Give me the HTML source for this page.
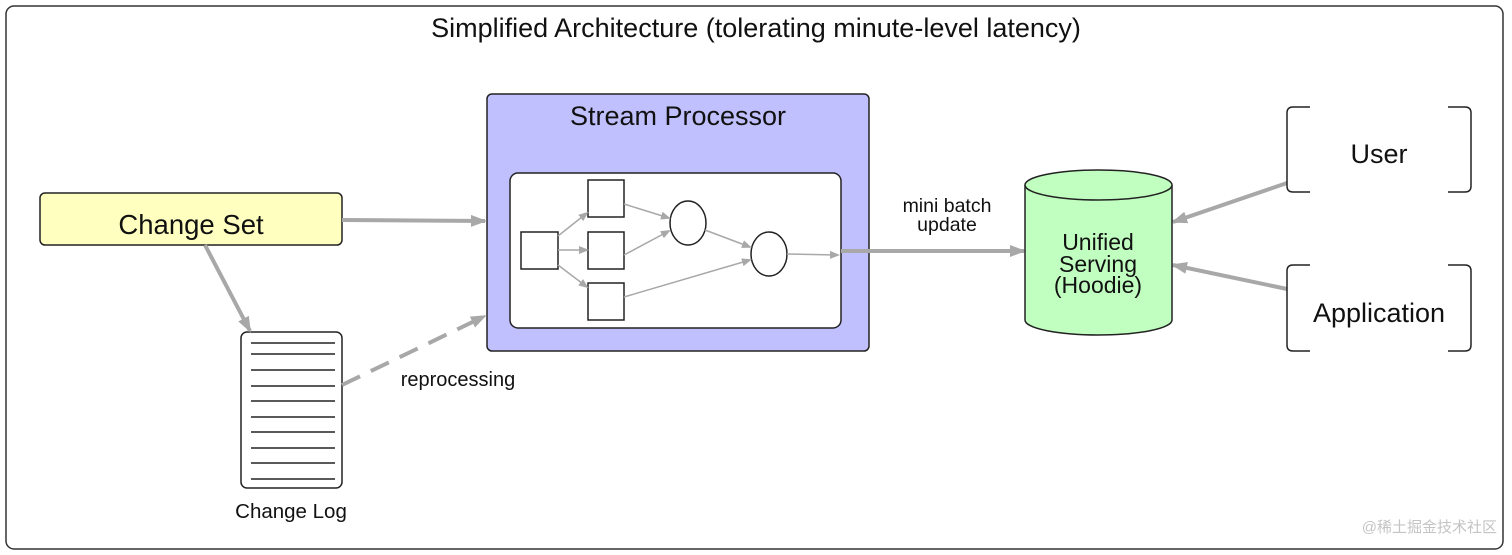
<!DOCTYPE html>
<html><head><meta charset="utf-8"><style>
html,body{margin:0;padding:0;background:#fff;}
svg{display:block;font-family:"Liberation Sans",Arial,sans-serif;}
</style></head><body>
<svg width="1512" height="555" viewBox="0 0 1512 555" xmlns="http://www.w3.org/2000/svg">
<defs>
<marker id="a" markerWidth="10" markerHeight="10" refX="8" refY="5" orient="auto" markerUnits="userSpaceOnUse"><path d="M0,1 L10,5 L0,9 Z" fill="#a8a8a8"/></marker>
<marker id="b" markerWidth="16" markerHeight="12" refX="14" refY="6" orient="auto" markerUnits="userSpaceOnUse"><path d="M0,0 L16,6 L0,12 Z" fill="#a8a8a8"/></marker>
</defs>
<rect x="6" y="6" width="1497" height="543" rx="8" fill="#fff" stroke="#333" stroke-width="1.5"/>
<text x="756" y="37" font-size="27" text-anchor="middle" fill="#111">Simplified Architecture (tolerating minute-level latency)</text>

<!-- Change Set -->
<rect x="40" y="193" width="302" height="52" rx="5" fill="#ffffc0" stroke="#222" stroke-width="1.5"/>
<text x="191" y="234" font-size="27.5" text-anchor="middle" fill="#111">Change Set</text>

<!-- Change Log -->
<rect x="241" y="332" width="101" height="156" rx="6" fill="#fff" stroke="#222" stroke-width="1.5"/>
<g stroke="#222" stroke-width="1.5">
<line x1="251" x2="335" y1="343" y2="343"/><line x1="251" x2="335" y1="354" y2="354"/>
<line x1="251" x2="335" y1="370" y2="370"/><line x1="251" x2="335" y1="386" y2="386"/>
<line x1="251" x2="335" y1="401" y2="401"/><line x1="251" x2="335" y1="417" y2="417"/>
<line x1="251" x2="335" y1="432" y2="432"/><line x1="251" x2="335" y1="448" y2="448"/>
<line x1="251" x2="335" y1="463" y2="463"/><line x1="251" x2="335" y1="479" y2="479"/>
</g>
<text x="291" y="518" font-size="20.5" text-anchor="middle" fill="#111">Change Log</text>

<!-- Stream Processor -->
<rect x="487" y="94" width="382" height="257" rx="5" fill="#c0c0ff" stroke="#222" stroke-width="1.5"/>
<text x="678" y="125" font-size="27" text-anchor="middle" fill="#111">Stream Processor</text>
<rect x="510" y="173" width="331" height="155" rx="8" fill="#fff" stroke="#222" stroke-width="1.5"/>
<g fill="#fff" stroke="#222" stroke-width="1.5">
<rect x="521" y="232" width="37" height="37"/>
<rect x="588" y="180" width="36" height="37"/>
<rect x="588" y="232" width="36" height="37"/>
<rect x="588" y="283" width="36" height="37"/>
<ellipse cx="688" cy="223" rx="18" ry="22"/>
<ellipse cx="769" cy="254" rx="18" ry="22"/>
</g>
<g stroke="#a8a8a8" stroke-width="1.5" marker-end="url(#a)" fill="none">
<line x1="558" y1="236" x2="587" y2="213"/>
<line x1="558" y1="250" x2="587" y2="250"/>
<line x1="558" y1="265" x2="587" y2="287"/>
<line x1="624" y1="204" x2="669" y2="218"/>
<line x1="624" y1="255" x2="669" y2="231"/>
<line x1="705" y1="230" x2="750" y2="247"/>
<line x1="624" y1="297" x2="750" y2="260"/>
<line x1="787" y1="254" x2="838" y2="255"/>
</g>

<!-- big arrows -->
<g stroke="#a8a8a8" stroke-width="4" fill="none" marker-end="url(#b)">
<line x1="342" y1="220" x2="485" y2="221"/>
<line x1="205" y1="245" x2="250" y2="331"/>
<line x1="342" y1="385" x2="485" y2="316" stroke-dasharray="20,12"/>
<line x1="841" y1="251" x2="1024" y2="251"/>
<line x1="1287" y1="183" x2="1173" y2="222"/>
<line x1="1287" y1="289" x2="1173" y2="265"/>
</g>
<text x="947" y="212" font-size="19.5" text-anchor="middle" fill="#111">mini batch</text>
<text x="947" y="231" font-size="19.5" text-anchor="middle" fill="#111">update</text>
<text x="458" y="386" font-size="20" text-anchor="middle" fill="#111">reprocessing</text>

<!-- Cylinder -->
<path d="M1025,185 L1025,320 A73.5,15 0 0 0 1172,320 L1172,185" fill="#c0ffc0" stroke="#222" stroke-width="1.5"/>
<ellipse cx="1098.5" cy="185" rx="73.5" ry="15" fill="#c0ffc0" stroke="#222" stroke-width="1.5"/>
<text x="1098" y="250" font-size="23" text-anchor="middle" fill="#111">Unified</text>
<text x="1098" y="272" font-size="23" text-anchor="middle" fill="#111">Serving</text>
<text x="1098" y="293" font-size="23" text-anchor="middle" fill="#111">(Hoodie)</text>

<!-- brackets -->
<g fill="none" stroke="#222" stroke-width="1.5">
<path d="M1310,107 L1293,107 Q1287,107 1287,113 L1287,186 Q1287,192 1293,192 L1310,192"/>
<path d="M1448,107 L1465,107 Q1471,107 1471,113 L1471,186 Q1471,192 1465,192 L1448,192"/>
<path d="M1310,265 L1293,265 Q1287,265 1287,271 L1287,345 Q1287,351 1293,351 L1310,351"/>
<path d="M1448,265 L1465,265 Q1471,265 1471,271 L1471,345 Q1471,351 1465,351 L1448,351"/>
</g>
<text x="1379" y="163" font-size="27" text-anchor="middle" fill="#111">User</text>
<text x="1379" y="322" font-size="27" text-anchor="middle" fill="#111">Application</text>

<text x="1497" y="532" font-size="15" text-anchor="end" fill="#c4c4c4" font-family="'Liberation Sans','Noto Sans CJK SC',sans-serif">@稀土掘金技术社区</text>
</svg>
</body></html>
